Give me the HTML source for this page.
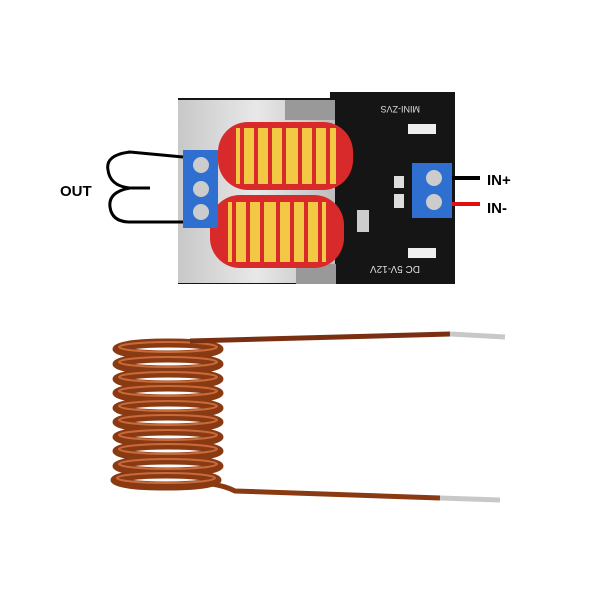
<!DOCTYPE html>
<html><head><style>html,body{margin:0;padding:0;background:#fff}svg{display:block}</style></head>
<body>
<svg width="600" height="600" viewBox="0 0 600 600" xmlns="http://www.w3.org/2000/svg">
<defs>
<linearGradient id="al" x1="0" y1="0" x2="1" y2="0">
<stop offset="0" stop-color="#c8c8c8"/><stop offset="0.5" stop-color="#e8e8e8"/><stop offset="1" stop-color="#bdbdbd"/></linearGradient>
</defs>
<rect width="600" height="600" fill="#fff"/>
<!-- PCB -->
<rect x="178" y="98" width="277" height="186" fill="#151515"/>
<rect x="330" y="92" width="125" height="10" fill="#151515"/>
<rect x="178" y="100" width="157" height="183" fill="url(#al)"/>
<rect x="285" y="100" width="50" height="20" fill="#999"/>
<rect x="296" y="264" width="40" height="20" fill="#999"/>
<text x="420" y="112" font-family="Liberation Sans" font-size="9" fill="#ddd" transform="rotate(180 420 109)">MINI-ZVS</text>
<text x="420" y="272" font-family="Liberation Sans" font-size="10" fill="#ddd" transform="rotate(180 420 269)">DC 5V-12V</text>
<rect x="408" y="124" width="28" height="10" fill="#eee"/>
<rect x="408" y="248" width="28" height="10" fill="#eee"/>
<rect x="394" y="176" width="10" height="12" fill="#ddd"/>
<rect x="394" y="194" width="10" height="14" fill="#ddd"/>
<rect x="357" y="210" width="12" height="22" fill="#ccc"/>
<!-- toroids -->
<rect x="218" y="122" width="135" height="68" rx="30" fill="#d82a2a"/>
<rect x="236" y="128" width="100" height="56" fill="#f2c844"/>
<g stroke="#d82a2a" stroke-width="4">
<line x1="242" y1="126" x2="242" y2="186"/><line x1="256" y1="126" x2="256" y2="186"/><line x1="270" y1="126" x2="270" y2="186"/><line x1="284" y1="126" x2="284" y2="186"/><line x1="300" y1="126" x2="300" y2="186"/><line x1="314" y1="126" x2="314" y2="186"/><line x1="328" y1="126" x2="328" y2="186"/>
</g>
<rect x="210" y="195" width="134" height="73" rx="30" fill="#d82a2a"/>
<rect x="228" y="202" width="98" height="60" fill="#f2c844"/>
<g stroke="#d82a2a" stroke-width="4">
<line x1="234" y1="199" x2="234" y2="265"/><line x1="248" y1="199" x2="248" y2="265"/><line x1="262" y1="199" x2="262" y2="265"/><line x1="278" y1="199" x2="278" y2="265"/><line x1="292" y1="199" x2="292" y2="265"/><line x1="306" y1="199" x2="306" y2="265"/><line x1="320" y1="199" x2="320" y2="265"/>
</g>
<!-- left terminal -->
<rect x="183" y="150" width="35" height="78" fill="#2f6fd0"/>
<circle cx="201" cy="165" r="8" fill="#ccc"/><circle cx="201" cy="189" r="8" fill="#ccc"/><circle cx="201" cy="212" r="8" fill="#ccc"/>
<!-- right terminal -->
<rect x="412" y="163" width="40" height="55" fill="#2f6fd0"/>
<circle cx="434" cy="178" r="8" fill="#ccc"/><circle cx="434" cy="202" r="8" fill="#ccc"/>
<!-- wires -->
<path d="M183 157 L130 152 Q105 155 108 170 Q110 186 130 188 Q108 192 110 207 Q112 222 130 222 L183 222" fill="none" stroke="#000" stroke-width="3"/>
<path d="M130 188 L150 188" stroke="#000" stroke-width="3"/>
<line x1="452" y1="178" x2="480" y2="178" stroke="#000" stroke-width="4"/>
<line x1="452" y1="204" x2="480" y2="204" stroke="#e01010" stroke-width="4"/>
<text x="60" y="196" font-family="Liberation Sans" font-weight="bold" font-size="15">OUT</text>
<text x="487" y="185" font-family="Liberation Sans" font-weight="bold" font-size="15">IN+</text>
<text x="487" y="213" font-family="Liberation Sans" font-weight="bold" font-size="15">IN-</text>
<!-- coil -->
<g fill="none" stroke="#8a3a12" stroke-width="9">
<ellipse cx="168" cy="349" rx="51" ry="6"/><ellipse cx="168" cy="364" rx="51" ry="6"/><ellipse cx="168" cy="379" rx="51" ry="6"/><ellipse cx="168" cy="393" rx="51" ry="6"/><ellipse cx="168" cy="408" rx="51" ry="6"/><ellipse cx="168" cy="422" rx="51" ry="6"/><ellipse cx="168" cy="437" rx="51" ry="6"/><ellipse cx="168" cy="451" rx="51" ry="6"/><ellipse cx="168" cy="466" rx="51" ry="6"/><ellipse cx="166" cy="480" rx="51" ry="6"/>
</g>
<g fill="none" stroke="#c86a3a" stroke-width="2">
<ellipse cx="168" cy="347" rx="49" ry="5"/><ellipse cx="168" cy="362" rx="49" ry="5"/><ellipse cx="168" cy="377" rx="49" ry="5"/><ellipse cx="168" cy="391" rx="49" ry="5"/><ellipse cx="168" cy="406" rx="49" ry="5"/><ellipse cx="168" cy="420" rx="49" ry="5"/><ellipse cx="168" cy="435" rx="49" ry="5"/><ellipse cx="168" cy="449" rx="49" ry="5"/><ellipse cx="168" cy="464" rx="49" ry="5"/><ellipse cx="166" cy="478" rx="49" ry="5"/>
</g>
<path d="M190 341 L450 334" stroke="#7a3010" stroke-width="5" fill="none"/>
<path d="M450 334 L505 337" stroke="#c8c8c8" stroke-width="5"/>
<path d="M212 484 Q225 486 235 491 L440 498" stroke="#8a3a12" stroke-width="5" fill="none"/>
<path d="M440 498 L500 500" stroke="#c8c8c8" stroke-width="5"/>
</svg>
</body></html>
